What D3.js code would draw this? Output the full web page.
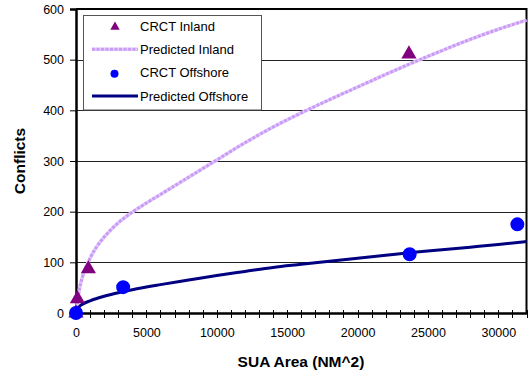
<!DOCTYPE html>
<html>
<head>
<meta charset="utf-8">
<script src="https://cdn.jsdelivr.net/npm/d3@7"></script>
<style>
  body { margin: 0; background: #fff; }
  svg { display: block; font-family: Arial, "Liberation Sans", sans-serif; }
</style>
</head>
<body>
<div id="container"></div>
<script>
// observed points
const inlandArea = [0, 100, 880, 23650];
const inlandConflicts = [0, 28, 87, 511];
const offshoreArea = [0, 3350, 23700, 31350];
const offshoreConflicts = [0, 51, 116, 175];

// fitted curves
const inlandCurveArea = [0, 250, 500, 1000, 1500, 2000, 2500, 3000, 4000, 5000, 6000, 8000, 10000,
  12000, 14000, 16000, 18000, 20000, 22000, 24000, 26000, 28000, 30000, 32000];
const predInland = [0, 48, 75, 108, 132, 150, 165, 178, 199, 217, 234, 268, 302,
  336, 367, 395, 421, 446, 471, 495, 518, 540, 560, 578];

const offshoreCurveArea = [0, 250, 500, 1000, 2000, 3000, 4000, 6000, 8000, 10000, 12000, 14000,
  16000, 18000, 20000, 22000, 24000, 26000, 28000, 30000, 32000];
const predOffshore = [0, 13, 18, 24, 33, 40, 46, 56, 65, 74, 82, 90,
  96, 102, 108, 114, 120, 125, 130, 135, 141];

const xTicks = [0, 5000, 10000, 15000, 20000, 25000, 30000];
const yTicks = [0, 100, 200, 300, 400, 500, 600];

const W = 529, H = 375;
const plot = { left: 76, right: 526.5, top: 9, bottom: 313 };

const svg = d3.select("#container").append("svg")
  .attr("width", W).attr("height", H);

const x = d3.scaleLinear().domain([0, 32000]).range([plot.left, plot.right]);
const y = d3.scaleLinear().domain([0, 600]).range([plot.bottom, plot.top]);

// gridlines
svg.append("g")
  .selectAll("line")
  .data(yTicks.filter(d => d > 0 && d < 600))
  .enter().append("line")
  .attr("x1", plot.left).attr("x2", plot.right)
  .attr("y1", d => Math.round(y(d)) + 0.5).attr("y2", d => Math.round(y(d)) + 0.5)
  .attr("stroke", "#222").attr("stroke-width", 1);

// frame top / right
svg.append("path")
  .attr("d", `M${plot.left},${plot.top}H${plot.right}V${plot.bottom}`)
  .attr("fill", "none").attr("stroke", "#000").attr("stroke-width", 2);

// y axis
const yAxis = d3.axisLeft(y).tickValues(yTicks).tickSize(6).tickPadding(6);
const gy = svg.append("g").attr("transform", `translate(${plot.left},0)`).call(yAxis);
gy.select(".domain").attr("stroke-width", 2.5);
gy.selectAll(".tick line").attr("stroke-width", 1);
gy.selectAll("text").attr("font-size", 12.5).attr("fill", "#000");

// x axis with minor ticks every 1000
const xAxis = d3.axisBottom(x).tickValues(xTicks).tickFormat(d3.format("d"))
  .tickSize(0).tickPadding(15);
const gx = svg.append("g").attr("transform", `translate(0,${plot.bottom})`).call(xAxis);
gx.select(".domain").attr("stroke-width", 2.5);
gx.selectAll("text").attr("font-size", 12.5).attr("fill", "#000");
gx.selectAll(".minor")
  .data(d3.range(1000, 32001, 1000))
  .enter().append("line")
  .attr("class", "minor")
  .attr("x1", d => Math.round(x(d)) + 0.5).attr("x2", d => Math.round(x(d)) + 0.5)
  .attr("y1", -3).attr("y2", 5)
  .attr("stroke", "#000").attr("stroke-width", 1);

// axis titles
svg.append("text")
  .attr("x", 301).attr("y", 367)
  .attr("text-anchor", "middle")
  .attr("font-size", 15.5).attr("font-weight", "bold")
  .text("SUA Area (NM^2)");
svg.append("text")
  .attr("transform", "translate(25,161) rotate(-90)")
  .attr("text-anchor", "middle")
  .attr("font-size", 15.5).attr("font-weight", "bold")
  .text("Conflicts");

// curves
const line = d3.line().x(d => x(d[0])).y(d => y(d[1])).curve(d3.curveMonotoneX);
const inlandLine = inlandCurveArea.map((a, i) => [a, predInland[i]]);
const offshoreLine = offshoreCurveArea.map((a, i) => [a, predOffshore[i]]);

svg.append("path").attr("d", line(inlandLine))
  .attr("fill", "none").attr("stroke", "#e4cdfd").attr("stroke-width", 3.5);
svg.append("path").attr("d", line(inlandLine))
  .attr("fill", "none").attr("stroke", "#c99bf5").attr("stroke-width", 3)
  .attr("stroke-dasharray", "3,1.5");
svg.append("path").attr("d", line(offshoreLine))
  .attr("fill", "none").attr("stroke", "#000080").attr("stroke-width", 3);

// markers
const tri = d3.symbol().type(d3.symbolTriangle).size(100);
const circ = d3.symbol().type(d3.symbolCircle).size(154);

svg.append("g").selectAll("path")
  .data(inlandArea.map((a, i) => [a, inlandConflicts[i]]))
  .enter().append("path")
  .attr("d", tri)
  .attr("transform", d => `translate(${x(d[0])},${y(d[1])})`)
  .attr("fill", "#800080");

svg.append("g").selectAll("path")
  .data(offshoreArea.map((a, i) => [a, offshoreConflicts[i]]))
  .enter().append("path")
  .attr("d", circ)
  .attr("transform", d => `translate(${x(d[0])},${y(d[1])})`)
  .attr("fill", "#0000ff");

// legend
const lg = svg.append("g");
lg.append("rect")
  .attr("x", 83.5).attr("y", 15.5).attr("width", 178).attr("height", 94.5)
  .attr("fill", "#fff").attr("stroke", "#555").attr("stroke-width", 1);

const legendItems = ["CRCT Inland", "Predicted Inland", "CRCT Offshore", "Predicted Offshore"];
const rowY = d3.scalePoint().domain(legendItems).range([26, 96]);

lg.append("path").attr("d", d3.symbol().type(d3.symbolTriangle).size(38)())
  .attr("transform", `translate(115,${rowY(legendItems[0]) + 1})`).attr("fill", "#800080");
lg.append("line").attr("x1", 92).attr("x2", 138)
  .attr("y1", rowY(legendItems[1])).attr("y2", rowY(legendItems[1]))
  .attr("stroke", "#e4cdfd").attr("stroke-width", 3.5);
lg.append("line").attr("x1", 92).attr("x2", 138)
  .attr("y1", rowY(legendItems[1])).attr("y2", rowY(legendItems[1]))
  .attr("stroke", "#c99bf5").attr("stroke-width", 3).attr("stroke-dasharray", "3,1.5");
lg.append("circle").attr("cx", 114.5).attr("cy", rowY(legendItems[2]) + 1).attr("r", 4)
  .attr("fill", "#0000ff");
lg.append("line").attr("x1", 92).attr("x2", 138)
  .attr("y1", rowY(legendItems[3])).attr("y2", rowY(legendItems[3]))
  .attr("stroke", "#000080").attr("stroke-width", 3);

lg.selectAll("text").data(legendItems).enter().append("text")
  .attr("x", 140).attr("y", d => rowY(d))
  .attr("dy", "0.36em")
  .attr("font-size", 13)
  .text(d => d);
</script>
</body>
</html>
